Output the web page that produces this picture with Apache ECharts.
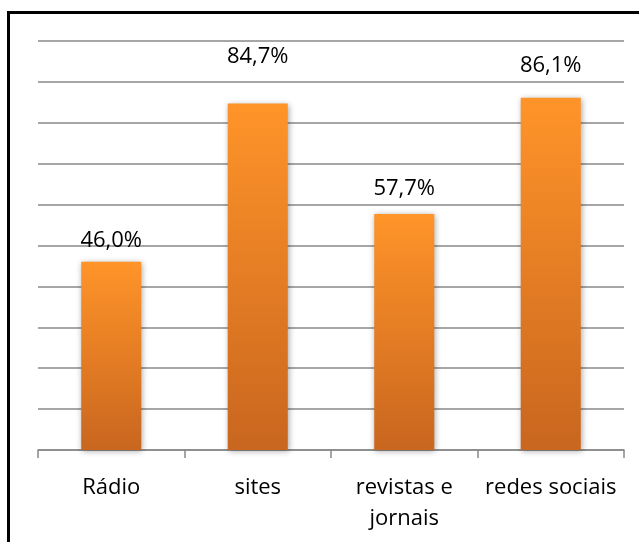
<!DOCTYPE html>
<html><head><meta charset="utf-8">
<script src="https://cdn.jsdelivr.net/npm/echarts@6/dist/echarts.min.js"></script>
<style>html,body{margin:0;padding:0;background:#fff}#c{width:639px;height:542px}</style>
</head><body><div id="c"></div>
<script>
const categories = ['Rádio', 'sites', 'revistas e\njornais', 'redes sociais'];
const values = [46.0, 84.7, 57.7, 86.1];
const yTicks = [0, 10, 20, 30, 40, 50, 60, 70, 80, 90, 100];

const labelGaps = [10, 36, 14, 21];
const chart = echarts.init(document.getElementById('c'), null, {renderer: 'canvas'});
const font = '"Open Sans", "Noto Sans", sans-serif';
chart.setOption({
  animation: false,
  graphic: [{
    type: 'rect', shape: {x: 8.5, y: 12.5, width: 700, height: 600},
    style: {fill: 'none', stroke: '#000', lineWidth: 3}, z: 100
  }],
  grid: {left: 38, right: 15, top: 41, bottom: 92},
  xAxis: {
    type: 'category', data: categories,
    axisLine: {lineStyle: {color: '#888', width: 1.5}},
    axisTick: {show: true, length: 8, lineStyle: {color: '#888', width: 1.5}},
    axisLabel: {interval: 0, color: '#000', fontSize: 22, fontFamily: font, margin: 22, lineHeight: 31}
  },
  yAxis: {
    type: 'value', min: yTicks[0], max: yTicks[yTicks.length - 1], interval: 10,
    axisLabel: {show: false}, axisLine: {show: false}, axisTick: {show: false},
    splitLine: {lineStyle: {color: '#888', width: 1.5}}
  },
  series: [{
    type: 'bar', barWidth: '41%',
    data: values.map((v, i) => ({value: v, label: {distance: labelGaps[i]}})),
    itemStyle: {
      color: new echarts.graphic.LinearGradient(0, 0, 0, 1, [
        {offset: 0, color: '#FF9429'}, {offset: 1, color: '#C9661F'}
      ]),
      shadowColor: 'rgba(0,0,0,0.35)', shadowBlur: 6, shadowOffsetX: 1, shadowOffsetY: 1
    },
    label: {
      show: true, position: 'top', color: '#000', fontSize: 22, fontFamily: font,
      formatter: p => p.value.toFixed(1).replace('.', ',') + '%'
    }
  }]
});
</script></body></html>
